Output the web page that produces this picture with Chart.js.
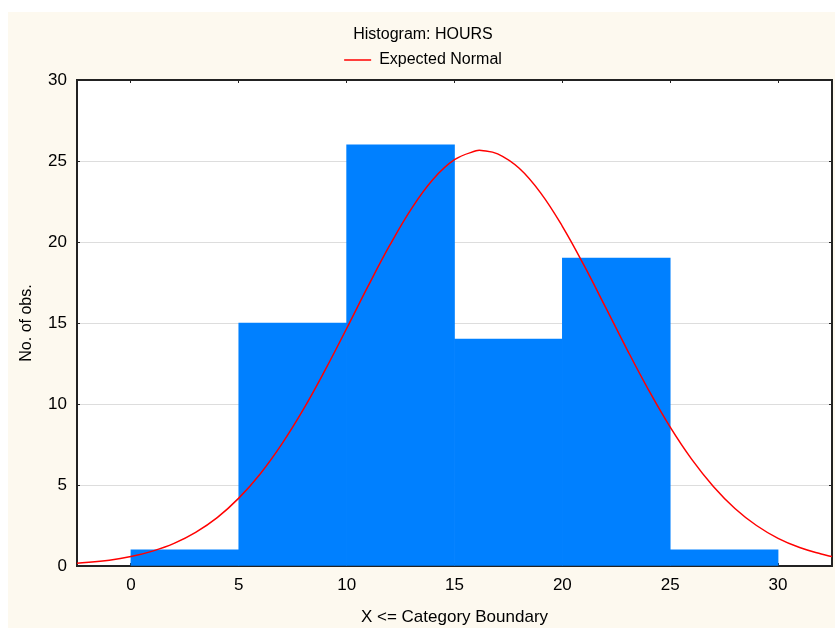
<!DOCTYPE html>
<html><head><meta charset="utf-8">
<script src="https://cdn.jsdelivr.net/npm/chart.js@4/dist/chart.umd.min.js"></script>
<style>
html,body{margin:0;padding:0;background:#ffffff;}
#wrap{position:absolute;left:8px;top:12px;width:827px;height:616px;background:#fdf9ef;}
canvas{display:block;}
</style></head><body>
<div id="wrap"><canvas id="c" width="827" height="616"></canvas></div>
<script>
// Histogram bins (category boundaries) and counts
const binStart = [0, 5, 10, 15, 20, 25];
const binEnd   = [5, 10, 15, 20, 25, 30];
const counts   = [1, 15, 26, 14, 19, 1];
// Expected normal curve
const curveX = [-2.5, -1, 0, 1, 2, 3, 4, 5, 6, 7, 8, 9, 10, 11, 12, 13, 14, 15, 16, 16.25, 17, 18, 19, 20, 21, 22, 23, 24, 25, 26, 27, 28, 29, 30, 31, 32, 32.5];
const curveY = [0.17, 0.36, 0.58, 0.92, 1.40, 2.08, 2.99, 4.19, 5.70, 7.54, 9.68, 12.09, 14.66, 17.29, 19.80, 22.05, 23.86, 25.08, 25.63, 25.65, 25.44, 24.55, 23.02, 20.97, 18.57, 15.98, 13.36, 10.86, 8.57, 6.58, 4.91, 3.55, 2.50, 1.71, 1.14, 0.74, 0.58];
// Tick labels
const xTicks = [0, 5, 10, 15, 20, 25, 30];
const yTicks = [0, 5, 10, 15, 20, 25, 30];

const FAM = "'Liberation Sans', Arial, sans-serif";
const AXC = '#222222';

const plotBg = {
  id: 'plotBg',
  beforeDraw(chart) {
    const a = chart.chartArea, c = chart.ctx;
    c.save(); c.fillStyle = '#ffffff';
    c.fillRect(a.left, a.top, a.right - a.left, a.bottom - a.top);
    c.restore();
  }
};

new Chart(document.getElementById('c'), {
  type: 'line',
  data: {
    datasets: [
      {
        type: 'line', label: 'Expected Normal',
        data: curveX.map((x, i) => ({x: x, y: curveY[i]})),
        borderColor: '#ff0000', backgroundColor: '#ff0000', borderWidth: 1.5,
        pointRadius: 0, tension: 0.4, fill: false, order: 0
      },
      {
        type: 'bar', label: 'HOURS',
        data: binStart.map((s, i) => ({x: (s + binEnd[i]) / 2, y: counts[i]})),
        backgroundColor: '#0080ff', borderWidth: 0,
        barPercentage: 1, categoryPercentage: 1, order: 1
      }
    ]
  },
  options: {
    responsive: false, animation: false,
    layout: {padding: {top: 0, right: 3, bottom: 0, left: 6}},
    plugins: {
      title: {display: true, text: 'Histogram: HOURS', color: '#000',
        font: {family: FAM, size: 16, weight: 'normal'}, padding: {top: 13.4, bottom: 4}},
      legend: {display: true,
        labels: {filter: (it) => it.text === 'Expected Normal', usePointStyle: true, pointStyle: 'line',
          pointStyleWidth: 27, padding: 3.4, color: '#000', font: {family: FAM, size: 16}}},
      tooltip: {enabled: false}
    },
    scales: {
      x: {
        type: 'linear', position: 'bottom', min: -2.5, max: 32.5, offset: false,
        afterBuildTicks: s => { s.ticks = xTicks.map(v => ({value: v})); },
        afterFit: s => { s.height = 62; },
        grid: {drawOnChartArea: false, tickLength: -3, tickColor: AXC, offset: false},
        border: {color: AXC, width: 2},
        ticks: {color: '#000', font: {family: FAM, size: 17}, padding: 12, maxRotation: 0, autoSkip: false},
        title: {display: true, text: 'X <= Category Boundary', color: '#000',
          font: {family: FAM, size: 17}, padding: {top: 0, bottom: 0}}
      },
      x2: {
        type: 'linear', position: 'top', min: -2.5, max: 32.5, offset: false,
        afterBuildTicks: s => { s.ticks = xTicks.map(v => ({value: v})); },
        afterFit: s => { s.height = 2; },
        grid: {drawOnChartArea: false, tickLength: -3, tickColor: AXC},
        border: {color: AXC, width: 2},
        ticks: {display: false}
      },
      y: {
        type: 'linear', position: 'left', min: 0, max: 30,
        afterBuildTicks: s => { s.ticks = yTicks.map(v => ({value: v})); },
        afterFit: s => { s.width = 63; },
        grid: {color: '#dddddd', lineWidth: 1, tickLength: -3, tickColor: AXC},
        border: {color: AXC, width: 2},
        ticks: {color: '#000', font: {family: FAM, size: 17}, padding: 13},
        title: {display: true, text: 'No. of obs.', color: '#000',
          font: {family: FAM, size: 16}, padding: {top: 3.4, bottom: 0}}
      },
      y2: {
        type: 'linear', position: 'right', min: 0, max: 30,
        afterBuildTicks: s => { s.ticks = yTicks.map(v => ({value: v})); },
        afterFit: s => { s.width = 0; },
        grid: {drawOnChartArea: false, tickLength: -3, tickColor: AXC},
        border: {color: AXC, width: 2},
        ticks: {display: false}
      }
    }
  },
  plugins: [plotBg]
});
</script>
</body></html>
